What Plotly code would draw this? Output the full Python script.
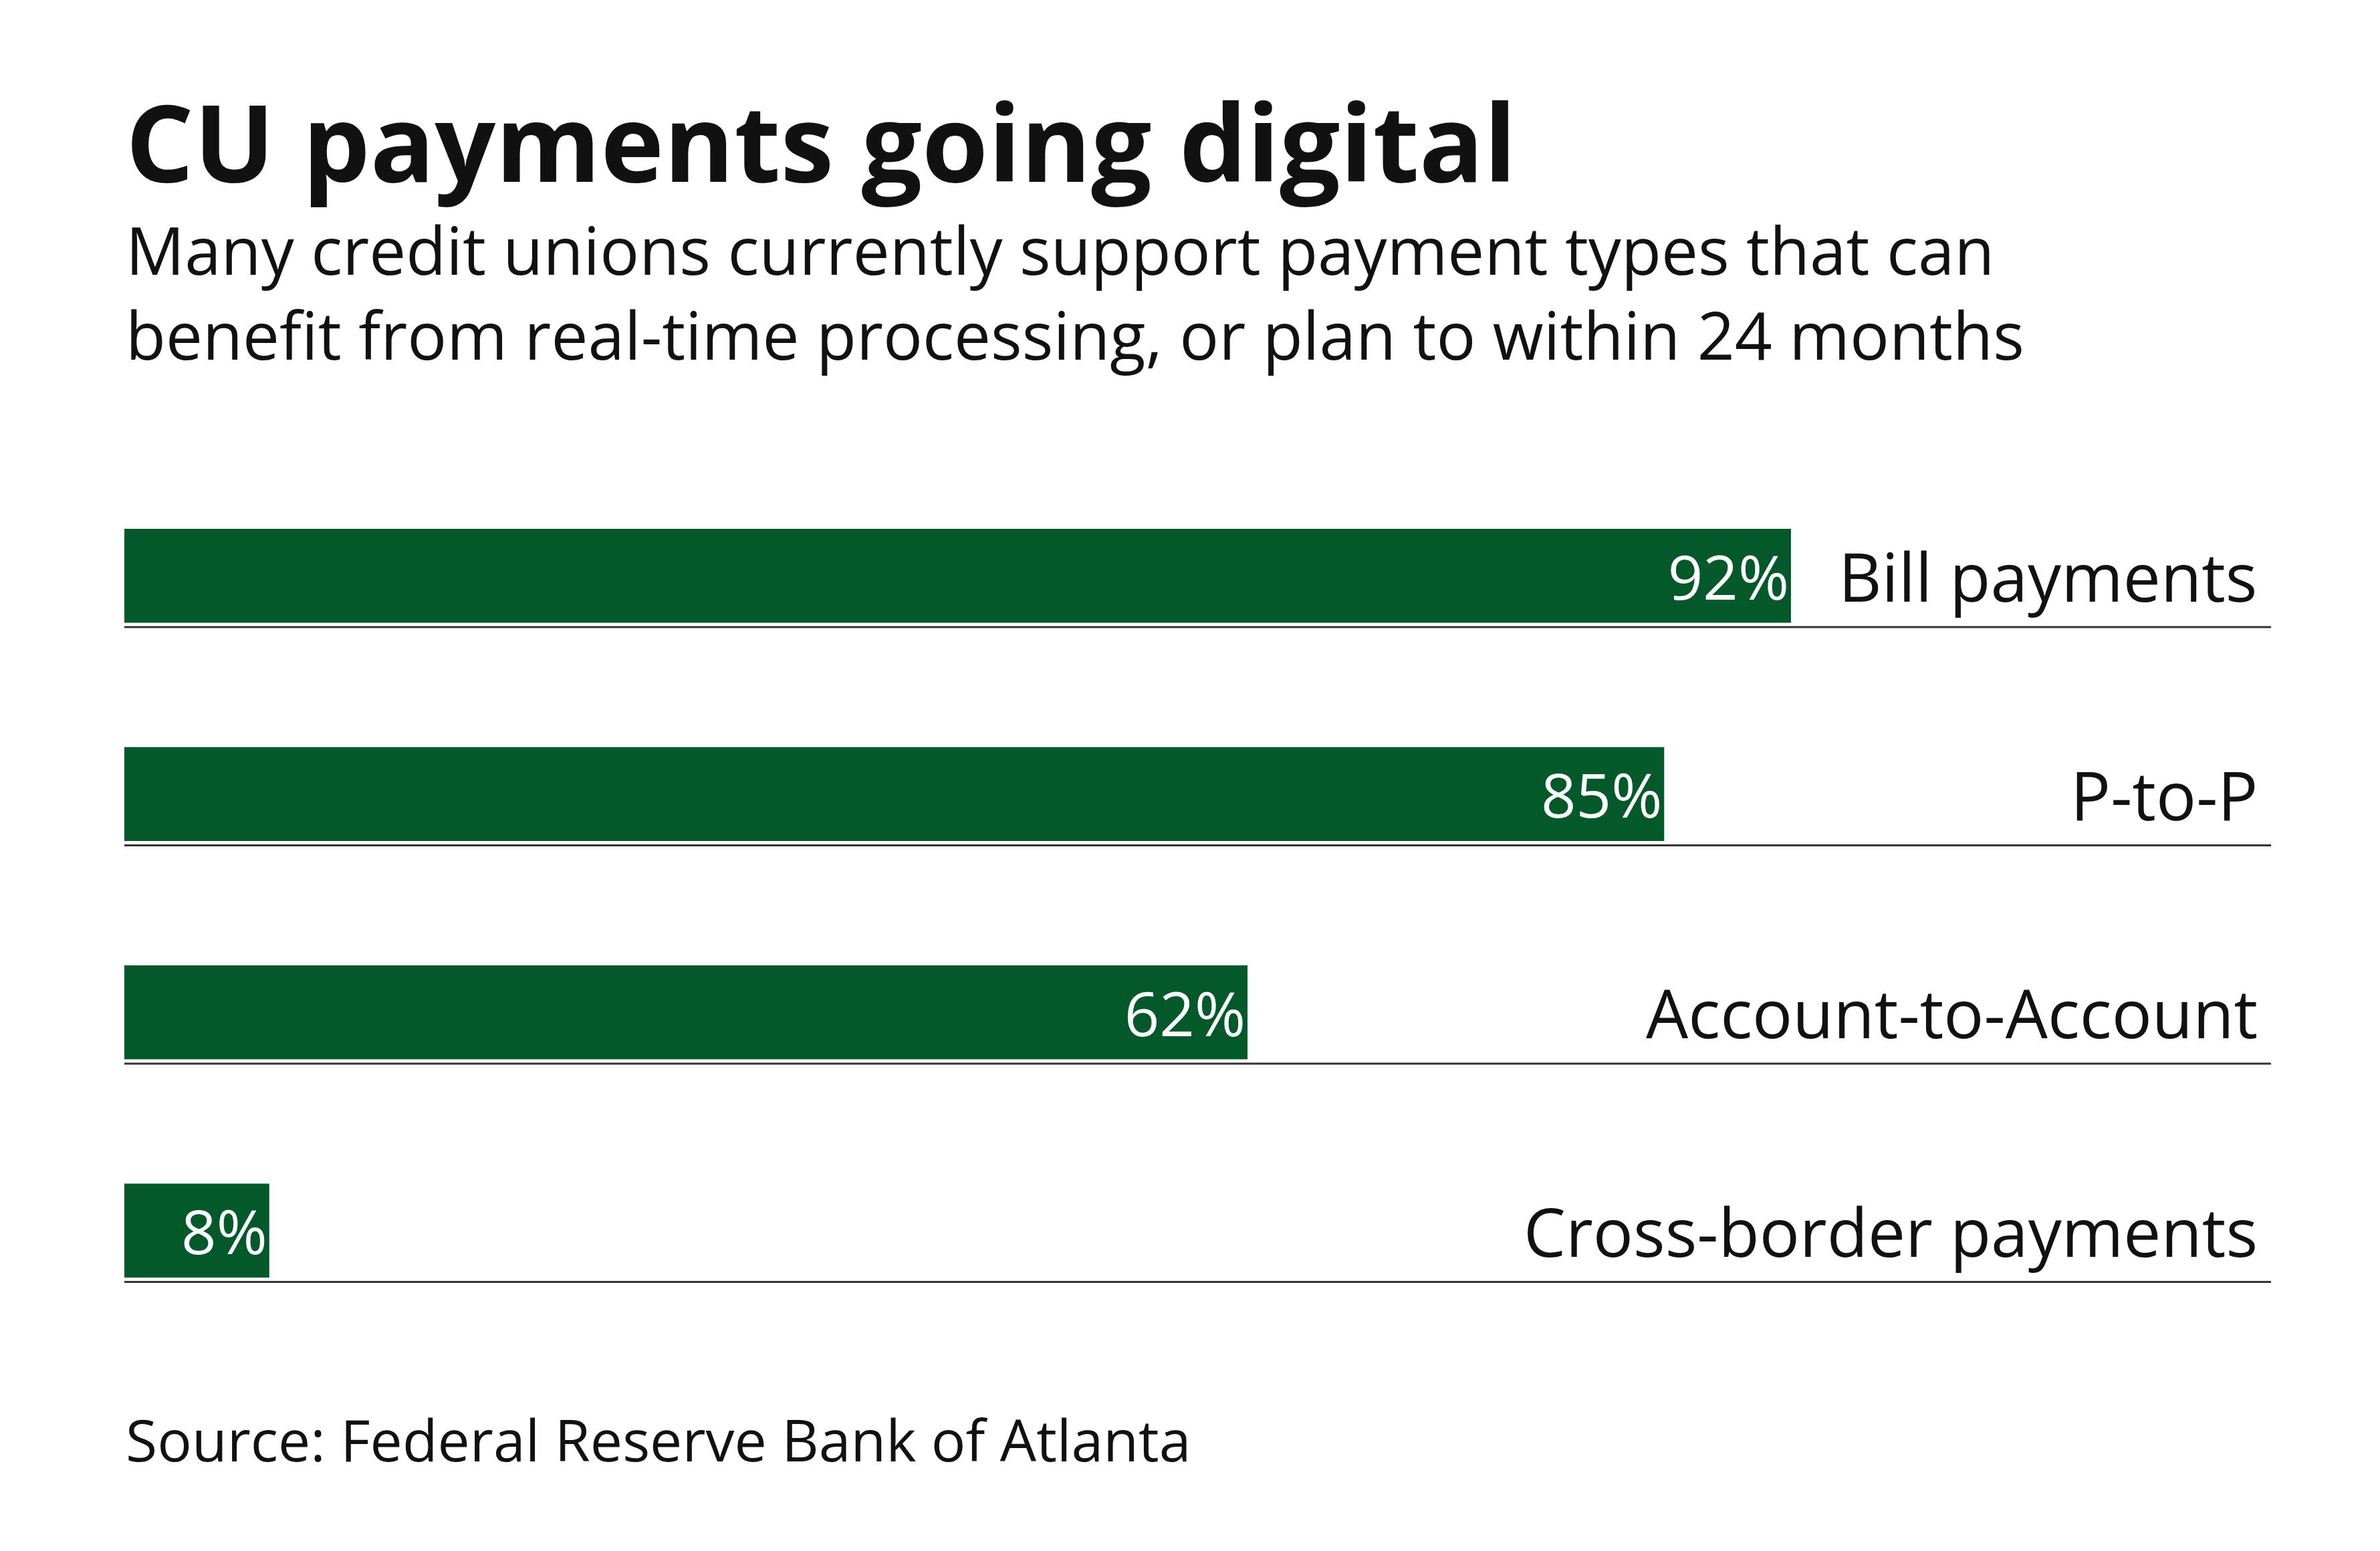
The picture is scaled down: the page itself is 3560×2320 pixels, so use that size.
import plotly.graph_objects as go

categories = ["Bill payments", "P-to-P", "Account-to-Account", "Cross-border payments"]
values = [92, 85, 62, 8]
value_labels = ["92%", "85%", "62%", "8%"]

green = "#04592A"
font = "Open Sans"
pos = list(range(len(categories)))

fig = go.Figure()
fig.add_trace(go.Bar(
    x=values, y=pos, orientation="h", width=0.43,
    marker_color=green, marker_line_width=0,
    text=value_labels, textposition="inside", insidetextanchor="end",
    constraintext="none",
    textfont=dict(color="white", size=92, family=font),
    hoverinfo="skip",
))

# thin rule under each bar, spanning the full width
for p in pos:
    fig.add_shape(type="line", xref="paper", yref="y", x0=0, x1=1,
                  y0=p + 0.235, y1=p + 0.235,
                  line=dict(color="#333333", width=3))

# category labels on the right
for p, c in zip(pos, categories):
    fig.add_annotation(text=c, x=0.9944, xref="paper", y=p, yref="y",
                       xanchor="right", yanchor="middle", showarrow=False,
                       font=dict(size=100, color="#111111", family=font))

fig.add_annotation(text="<b>CU payments going digital</b>", x=0, xref="paper",
                   y=1.374, yref="paper", xanchor="left", yanchor="middle",
                   showarrow=False, font=dict(size=160, color="#111111", family=font))
fig.add_annotation(
    text="Many credit unions currently support payment types that can<br>"
         "benefit from real-time processing, or plan to within 24 months",
    x=0, xref="paper", y=1.2006, yref="paper", xanchor="left", yanchor="middle",
    align="left", showarrow=False, font=dict(size=98, color="#111111", family=font))
fig.add_annotation(text="Source: Federal Reserve Bank of Atlanta", x=0, xref="paper",
                   y=-0.114, yref="paper", xanchor="left", yanchor="middle",
                   showarrow=False, font=dict(size=86, color="#111111", family=font))

fig.update_layout(
    width=3560, height=2320,
    margin=dict(l=178, r=171, t=690, b=324),
    paper_bgcolor="white", plot_bgcolor="white",
    showlegend=False,
    xaxis=dict(range=[0, 118.5], visible=False, fixedrange=True),
    yaxis=dict(range=[3.5, -0.5], visible=False, fixedrange=True),
)

fig.write_html("out.html")
